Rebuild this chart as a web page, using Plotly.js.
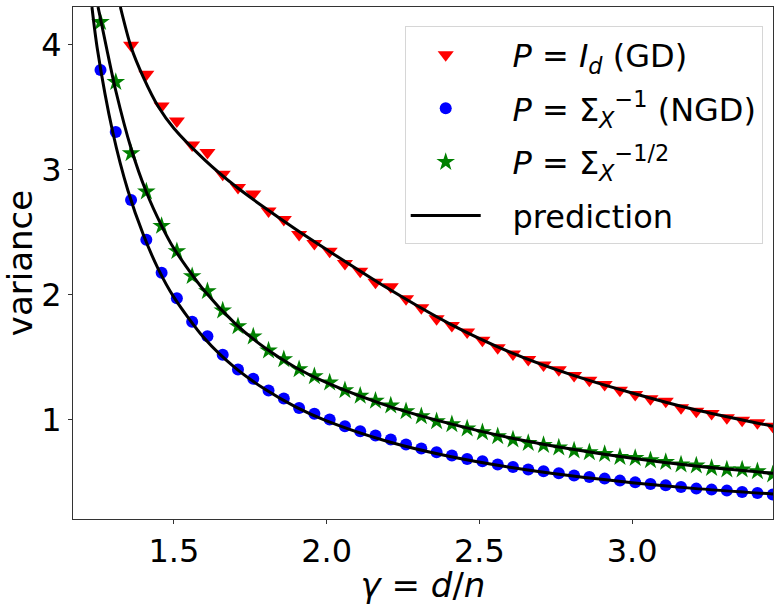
<!DOCTYPE html>
<html>
<head>
<meta charset="utf-8">
<script src="https://cdn.plot.ly/plotly-3.0.1.min.js"></script>
<style>
  html, body { margin: 0; padding: 0; background: #fff; }
  #chart { width: 781px; height: 605px; }
</style>
</head>
<body>
<div id="chart"></div>
<script>
(function () {
  'use strict';

  // gamma = d/n for the simulated points (shared by all three runs)
  var gammaPts = [1.26, 1.31, 1.36, 1.41, 1.46, 1.51, 1.56, 1.61, 1.66, 1.71,
    1.76, 1.81, 1.86, 1.91, 1.96, 2.01, 2.06, 2.11, 2.16, 2.21,
    2.26, 2.31, 2.36, 2.41, 2.46, 2.51, 2.56, 2.61, 2.66, 2.71,
    2.76, 2.81, 2.86, 2.91, 2.96, 3.01, 3.06, 3.11, 3.16, 3.21,
    3.26, 3.31, 3.36, 3.41, 3.46];

  // P = I_d (GD); the first two are above the plot
  var gdVar = [null, null, 3.995, 3.762, 3.509, 3.389, 3.197, 3.136, 2.962, 2.856,
    2.805, 2.668, 2.601, 2.481, 2.409, 2.347, 2.249, 2.187, 2.099, 2.062,
    1.966, 1.894, 1.806, 1.753, 1.700, 1.634, 1.575, 1.524, 1.480, 1.436,
    1.398, 1.352, 1.315, 1.280, 1.235, 1.200, 1.166, 1.147, 1.094, 1.066,
    1.048, 1.014, 0.994, 0.974, 0.946];

  // P = Sigma_X^-1 (NGD)
  var ngdVar = [3.797, 3.300, 2.757, 2.438, 2.175, 1.971, 1.782, 1.667, 1.518, 1.400,
    1.326, 1.232, 1.168, 1.093, 1.047, 1.000, 0.946, 0.906, 0.872, 0.840,
    0.800, 0.768, 0.738, 0.712, 0.685, 0.666, 0.640, 0.621, 0.600, 0.586,
    0.570, 0.552, 0.541, 0.528, 0.512, 0.498, 0.485, 0.474, 0.461, 0.448,
    0.440, 0.432, 0.421, 0.413, 0.400];

  // P = Sigma_X^-1/2
  var sqrtVar = [4.180, 3.700, 3.130, 2.824, 2.549, 2.347, 2.147, 2.027, 1.873, 1.747,
    1.665, 1.553, 1.483, 1.403, 1.347, 1.297, 1.235, 1.190, 1.150, 1.112,
    1.066, 1.026, 0.986, 0.962, 0.928, 0.898, 0.866, 0.840, 0.812, 0.796,
    0.777, 0.752, 0.738, 0.725, 0.701, 0.693, 0.674, 0.661, 0.640, 0.632,
    0.613, 0.600, 0.600, 0.586, 0.560];

  // theoretical predictions (each starts where it leaves the top of the plot)
  var gdPredGamma = [1.325, 1.36, 1.40, 1.45, 1.50, 1.60, 1.70, 1.80, 1.90, 2.00,
    2.20, 2.40, 2.60, 2.80, 3.00, 3.20, 3.461];
  var gdPred = [4.30, 3.98, 3.74, 3.50, 3.33, 3.08, 2.87, 2.69, 2.52, 2.36,
    2.05, 1.77, 1.54, 1.36, 1.213, 1.083, 0.946];

  var ngdPredGamma = [1.232, 1.25, 1.30, 1.35, 1.40, 1.45, 1.50, 1.60, 1.70, 1.80,
    1.90, 2.00, 2.20, 2.40, 2.60, 2.80, 3.00, 3.20, 3.461];
  var ngdPred = [4.30, 3.96, 3.30, 2.83, 2.48, 2.20, 1.98, 1.65, 1.415, 1.24,
    1.10, 0.99, 0.825, 0.707, 0.619, 0.55, 0.495, 0.45, 0.405];

  var sqrtPredGamma = [1.252, 1.28, 1.31, 1.36, 1.41, 1.46, 1.50, 1.60, 1.70, 1.80,
    1.90, 2.00, 2.20, 2.40, 2.60, 2.80, 3.00, 3.20, 3.461];
  var sqrtPred = [4.30, 3.97, 3.63, 3.17, 2.82, 2.55, 2.37, 2.03, 1.77, 1.57,
    1.415, 1.295, 1.11, 0.97, 0.855, 0.765, 0.69, 0.63, 0.57];

  var xTicks = [1.5, 2.0, 2.5, 3.0];
  var yTicks = [1, 2, 3, 4];

  var FONT = 'DejaVu Sans, sans-serif';
  // matplotlib leaves a wider gap between legend handle and label
  var GAP = '\u00a0\u00a0\u2009';

  function markerTrace(y, name, symbol, color, size, group) {
    return {
      x: gammaPts, y: y,
      type: 'scatter', mode: 'markers',
      name: GAP + name,
      legendgroup: group,
      marker: { symbol: symbol, color: color, size: size, line: { width: 0 } },
      hoverinfo: 'skip',
    };
  }

  function predTrace(x, y, show) {
    return {
      x: x, y: y,
      type: 'scatter', mode: 'lines',
      name: GAP + 'prediction',
      legendgroup: 'pred',
      showlegend: show,
      line: { color: '#000000', width: 3, shape: 'spline', smoothing: 0.8 },
      hoverinfo: 'skip',
    };
  }

  var traces = [
    markerTrace(gdVar, '<i>P</i> = <i>I<sub>d</sub></i> (GD)', 'triangle-down', '#ff0000', 14, 'gd'),
    markerTrace(ngdVar, '<i>P</i> = Σ<sub><i>X</i></sub><sup>−1</sup> (NGD)', 'circle', '#0000ff', 12, 'ngd'),
    markerTrace(sqrtVar, '<i>P</i> = Σ<sub><i>X</i></sub><sup>−1/2</sup>', 'star', '#008000', 14, 'sqrt'),
    predTrace(gdPredGamma, gdPred, true),
    predTrace(ngdPredGamma, ngdPred, false),
    predTrace(sqrtPredGamma, sqrtPred, false),
  ];

  var axisCommon = {
    showline: true, mirror: true, linecolor: '#333333', linewidth: 1,
    ticks: 'outside', ticklen: 4, tickwidth: 1, tickcolor: '#333333',
    showgrid: false, zeroline: false,
    tickfont: { family: FONT, size: 32, color: '#000' },
  };

  var layout = {
    width: 781, height: 605,
    margin: { l: 73, r: 8, t: 7, b: 86 },
    paper_bgcolor: '#ffffff',
    plot_bgcolor: '#ffffff',
    font: { family: FONT, color: '#000' },
    showlegend: true,
    xaxis: Object.assign({}, axisCommon, {
      range: [1.17, 3.461],
      tickvals: xTicks,
      tickformat: '.1f',
      title: { text: '<i>γ</i> = <i>d</i>/<i>n</i>', font: { family: FONT, size: 34 }, standoff: 10 },
    }),
    yaxis: Object.assign({}, axisCommon, {
      range: [0.205, 4.30],
      tickvals: yTicks,
      title: { text: 'variance', font: { family: FONT, size: 34 }, standoff: 6 },
    }),
    legend: {
      x: 0.9853, y: 0.962, xanchor: 'right', yanchor: 'top',
      bgcolor: 'rgba(255,255,255,0.8)',
      bordercolor: '#d6d6d6', borderwidth: 1,
      font: { family: FONT, size: 32, color: '#000' },
      traceorder: 'grouped',
      tracegroupgap: 9,
      itemwidth: 70,
    },
  };

  Plotly.newPlot('chart', traces, layout, { displayModeBar: false, staticPlot: true });
})();
</script>
</body>
</html>
